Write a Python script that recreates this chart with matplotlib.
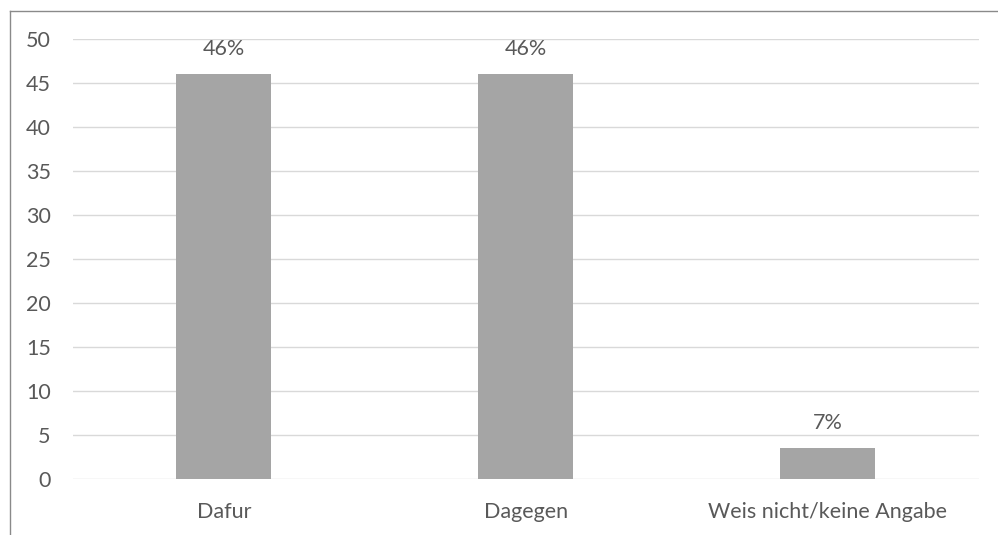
import matplotlib
matplotlib.use("Agg")
import matplotlib.pyplot as plt
from matplotlib.lines import Line2D

categories = ["Dafur", "Dagegen", "Weis nicht/keine Angabe"]
values = [46, 46, 3.5]
value_labels = ["46%", "46%", "7%"]
y_ticks = [0, 5, 10, 15, 20, 25, 30, 35, 40, 45, 50]

plt.rcParams["font.family"] = ["Lato", "DejaVu Sans"]

W, H = 998, 535
fig = plt.figure(figsize=(W / 100, H / 100), dpi=100)
ax = fig.add_axes([73 / W, 1 - 479 / H, (978.6 - 73) / W, (479 - 39.3) / H])

text_color = "#595959"
fs = 15.5
x = list(range(len(categories)))
bars = ax.bar(x, values, width=0.315, color="#a5a5a5", zorder=3)

for rect, lab in zip(bars, value_labels):
    ax.annotate(lab, (rect.get_x() + rect.get_width() / 2, rect.get_height()),
                xytext=(0, 18), textcoords="offset points", ha="center",
                va="center", fontsize=fs, color=text_color)

ax.set_xlim(-0.5, len(categories) - 0.5)
ax.set_ylim(0, 50)
ax.set_yticks(y_ticks)
ax.set_xticks(x)
ax.set_xticklabels(categories)
ax.tick_params(axis="y", length=0, pad=16, labelsize=fs, labelcolor=text_color)
ax.tick_params(axis="x", length=0, pad=16.5, labelsize=fs, labelcolor=text_color)
ax.grid(axis="y", color="#d9d9d9", linewidth=1.0, zorder=0)
for s in ax.spines.values():
    s.set_visible(False)

# outer chart frame (left and top edges)
fig.add_artist(Line2D([9.5 / W, 9.5 / W], [0, 1 - 10.5 / H], transform=fig.transFigure,
                      color="#8a8a8a", linewidth=1.0))
fig.add_artist(Line2D([9.5 / W, 1], [1 - 10.5 / H, 1 - 10.5 / H], transform=fig.transFigure,
                      color="#8a8a8a", linewidth=1.0))

fig.savefig("out.png", dpi=100)
